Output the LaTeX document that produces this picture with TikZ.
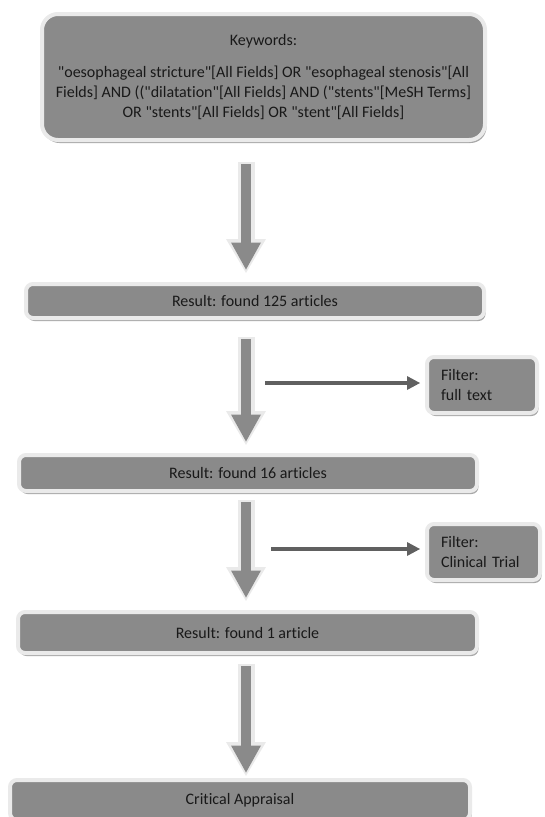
\documentclass[tikz,border=0pt]{standalone}
\usepackage{fontspec}
\setmainfont{Carlito}[Ligatures={TeXOff,CommonOff}]
\usetikzlibrary{arrows.meta,positioning,calc,shadows}
\definecolor{boxgray}{RGB}{138,138,138}
\definecolor{rimgray}{RGB}{234,234,234}
\definecolor{shadegray}{RGB}{168,168,168}
\definecolor{linegray}{RGB}{96,96,96}

\begin{document}
\begin{tikzpicture}[x=1pt, y=-1pt,
  stage/.style={draw=rimgray, fill=boxgray, line width=4pt, rounded corners=7pt, inner sep=0pt, align=center,
    font=\fontsize{16}{20}\selectfont, text=black!90,
    drop shadow={shadow xshift=1.5pt, shadow yshift=-3pt, fill=shadegray, opacity=1}},
  filterbox/.style={stage, align=left, inner xsep=14pt, minimum height=56pt},
  fatrim/.style={rimgray, line width=17pt, -{Triangle[length=34pt, width=40pt, line width=0pt]}},
  fatcore/.style={boxgray, line width=10pt, -{Triangle[length=27pt, width=30pt, line width=0pt]}, shorten >=3.5pt, shorten <=2pt},
  link/.style={linegray, line width=4pt, -{Triangle[length=13pt, width=14pt, line width=0pt]}, shorten >=5pt},
]
\useasboundingbox (0,0) rectangle (544,817);

% Search query
\node[stage, rounded corners=16pt, minimum width=443pt, minimum height=126pt] (kw) at (263.5,77) {%
  Keywords:\\[12pt]
  "oesophageal stricture"[All Fields] OR "esophageal stenosis"[All\\
  Fields] AND (("dilatation"[All Fields] AND ("stents"[MeSH Terms]\\
  OR "stents"[All Fields] OR "stent"[All Fields]};

% Results
\node[stage, minimum width=458pt, minimum height=34pt] (r125) at (255,301) {Result: found 125 articles};
\node[stage, minimum width=458pt, minimum height=36pt] (r16) at (248,473) {Result: found 16 articles};
\node[stage, minimum width=459pt, minimum height=41pt] (r1) at (247.5,632.5) {Result: found 1 article};
\node[stage, minimum width=460pt, minimum height=40pt] (ca) at (240,800) {Critical Appraisal};

% Filters
\node[filterbox, text width=82pt] (f1) at (482,385) {Filter:\\ full text};
\node[filterbox, text width=85pt] (f2) at (483.5,552) {Filter:\\ Clinical Trial};

% Flow arrows
\coordinate (axis) at (246,0);
\foreach \src/\dst/\gapa/\gapb in {kw/r125/20/9, r125/r16/17/8, r16/r1/7/9, r1/ca/9/2} {
  \draw[fatrim] ($(axis |- \src.south)+(0,\gapa)$) -- ($(axis |- \dst.north)+(0,-\gapb)$);
  \draw[fatcore] ($(axis |- \src.south)+(0,\gapa)$) -- ($(axis |- \dst.north)+(0,-\gapb)$);
}

% Filter arrows
\coordinate (h1) at (265,383);
\coordinate (h2) at (271,549);
\draw[link] (h1) -- (h1 -| f1.west);
\draw[link] (h2) -- (h2 -| f2.west);

\end{tikzpicture}
\end{document}
